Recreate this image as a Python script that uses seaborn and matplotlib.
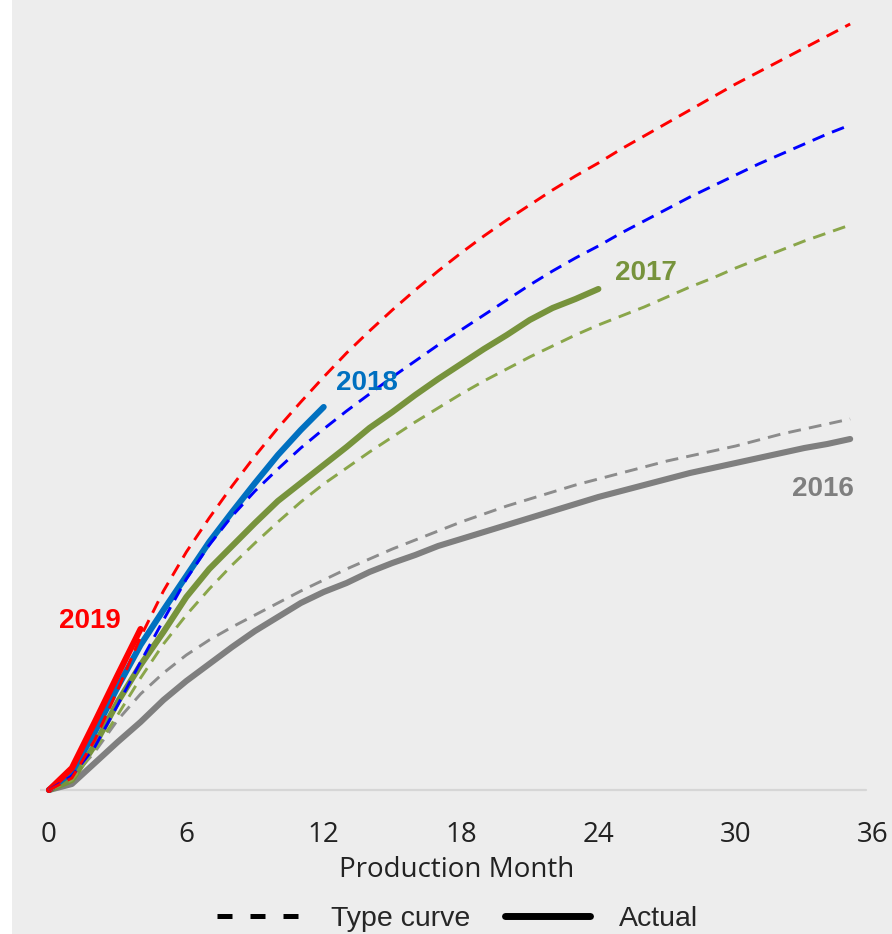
import numpy as np
import pandas as pd
import matplotlib
matplotlib.use("Agg")
import matplotlib.pyplot as plt
from matplotlib.lines import Line2D
from matplotlib.patches import Rectangle
import seaborn as sns

# ---------------- data (cumulative production, arbitrary units) ----------------
tick_months = [0, 6, 12, 18, 24, 30, 36]

type_months = list(range(0, 36))
type_2019 = [0, 12, 50, 100, 153, 199, 238, 272, 304, 334, 362, 388, 413, 437, 459, 480,
             500, 519, 537, 554, 570, 585, 600, 614, 627, 641, 654, 667, 680, 693, 706,
             718, 730, 742, 754, 766]
type_2018 = [0, 14, 43, 85, 128, 170, 211, 245, 274, 299, 321, 342, 361, 379, 396, 413,
             429, 445, 460, 475, 490, 505, 519, 532, 544, 557, 569, 581, 593, 604, 615,
             626, 636, 646, 656, 665]
type_2017 = [0, 10, 40, 75, 112, 146, 175, 201, 225, 247, 268, 288, 306, 322, 338, 353,
             368, 382, 396, 409, 421, 433, 444, 455, 465, 474, 483, 493, 503, 512, 522,
             531, 540, 549, 557, 565]
type_2016 = [0, 12, 38, 70, 96, 117, 135, 150, 163, 175, 187, 199, 210, 221, 231, 241,
             250, 259, 268, 276, 284, 291, 298, 305, 311, 317, 323, 329, 334, 339, 344,
             350, 356, 361, 366, 371]

act_2019 = [0, 22, 68, 115, 161]
act_2018 = [0, 18, 58, 103, 145, 180, 214, 248, 278, 307, 335, 360, 383]
act_2017 = [0, 10, 45, 88, 125, 158, 193, 221, 244, 267, 289, 307, 325, 343, 362, 378,
            395, 411, 426, 441, 455, 470, 482, 491, 501]
act_2016 = [0, 6, 27, 48, 68, 90, 109, 126, 143, 159, 173, 187, 198, 207, 218, 227, 235,
            244, 251, 258, 265, 272, 279, 286, 293, 299, 305, 311, 317, 322, 327, 332,
            337, 342, 346, 351]

vintages = ["2016", "2017", "2018", "2019"]
type_curves = {"2016": type_2016, "2017": type_2017, "2018": type_2018, "2019": type_2019}
actuals = {"2016": act_2016, "2017": act_2017, "2018": act_2018, "2019": act_2019}

# label anchor positions (month, value)
label_pos = {"2019": (1.8, 169), "2018": (13.9, 407), "2017": (26.1, 517), "2016": (33.8, 301)}

# ---------------- styles ----------------
actual_colors = {"2016": "#7f7f7f", "2017": "#77933c", "2018": "#0070c0", "2019": "#ff0000"}
type_colors = {"2016": "#8c8c8c", "2017": "#8aa64a", "2018": "#0000ff", "2019": "#ff0000"}
label_colors = actual_colors

BG = "#ededed"
sns.set_style("white", rc={"axes.facecolor": BG, "figure.facecolor": BG})
plt.rcParams["font.family"] = ["Open Sans", "DejaVu Sans"]

W, H = 892, 934
fig = plt.figure(figsize=(W / 100, H / 100), dpi=100)
fig.patches.append(Rectangle((0, 0), 12 / W, 1, transform=fig.transFigure,
                             facecolor="white", edgecolor="none", zorder=0))

x_left_px, x0_px, px_per_month = 39.8, 49.0, 22.89
xmin = -(x0_px - x_left_px) / px_per_month
xmax = 36.0
ax_w_px = (xmax - xmin) * px_per_month
ax_bottom_px, ax_top_px = 800, 10
ax = fig.add_axes([x_left_px / W, (H - ax_bottom_px) / H, ax_w_px / W,
                   (ax_bottom_px - ax_top_px) / H])
ax.set_facecolor(BG)

# baseline
ax.axhline(0, xmin=0, xmax=(35.7 - xmin) / (xmax - xmin), color="#d6d6d6", lw=1.6, zorder=1)

# actual (solid) lines
for i, v in enumerate(vintages):
    vals = actuals[v]
    df = pd.DataFrame({"month": type_months[:len(vals)], "value": vals})
    sns.lineplot(data=df, x="month", y="value", ax=ax, color=actual_colors[v],
                 linewidth=4.4, solid_capstyle="round", solid_joinstyle="round",
                 zorder=2 + i * 0.1, estimator=None, legend=False)

# type curves (dashed)
for i, v in enumerate(vintages):
    df = pd.DataFrame({"month": type_months, "value": type_curves[v]})
    sns.lineplot(data=df, x="month", y="value", ax=ax, color=type_colors[v],
                 linewidth=2.1, linestyle=(0, (4.4, 2.8)), zorder=3 + i * 0.1,
                 estimator=None, legend=False)

for v in vintages:
    mx, my = label_pos[v]
    ax.text(mx, my, v, color=label_colors[v], fontsize=20, fontweight="bold",
            family=["Liberation Sans", "DejaVu Sans"], ha="center", va="center",
            zorder=5)

ax.set_xlim(xmin, xmax)
ax.set_ylim(-10, 780)
ax.set_xticks(tick_months)
ax.set_xticklabels([str(t) for t in tick_months])
ax.set_yticks([])
ax.tick_params(axis="x", length=0, pad=15, labelsize=20, labelcolor="#222222")
for s in ax.spines.values():
    s.set_visible(False)
ax.set_xlabel("Production Month", fontsize=20, color="#222222", labelpad=5)
ax.set_ylabel("")

handles = [Line2D([], [], color="black", lw=3.6, linestyle=(0, (3.0, 3.6)),
                  dash_capstyle="butt"),
           Line2D([], [], color="black", lw=5.0)]
fig.legend(handles, ["Type curve", "Actual"], loc="center", bbox_to_anchor=(0.513, 0.0165),
           ncol=2, frameon=False, handlelength=3.0, handletextpad=1.0,
           columnspacing=1.2, prop={"family": ["Liberation Sans", "DejaVu Sans"], "size": 20.5})

fig.savefig("out.png", dpi=100, facecolor=BG)
